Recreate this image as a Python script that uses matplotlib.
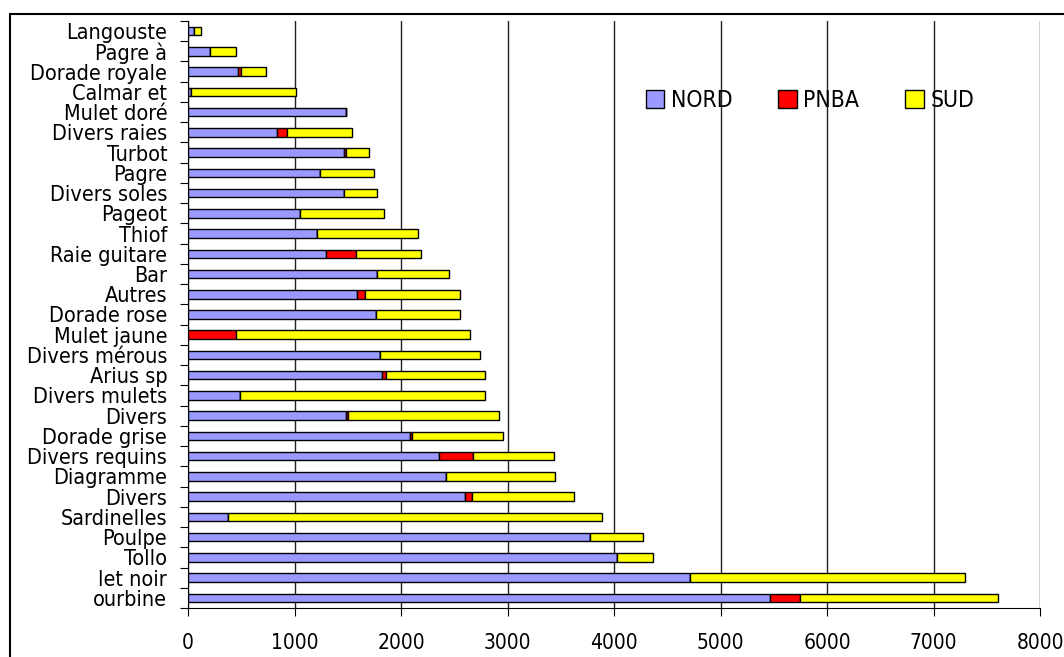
import matplotlib
matplotlib.use("Agg")
import matplotlib.pyplot as plt
import numpy as np
from matplotlib.patches import Rectangle

plt.rcParams["font.family"] = ["DejaVu Sans"]
plt.rcParams["font.stretch"] = "condensed"

# categories listed from bottom to top
species = [
    "ourbine", "let noir", "Tollo", "Poulpe", "Sardinelles", "Divers",
    "Diagramme", "Divers requins", "Dorade grise", "Divers", "Divers mulets",
    "Arius sp", "Divers mérous", "Mulet jaune", "Dorade rose", "Autres", "Bar",
    "Raie guitare", "Thiof", "Pageot", "Divers soles", "Pagre", "Turbot",
    "Divers raies", "Mulet doré", "Calmar et", "Dorade royale", "Pagre à",
    "Langouste",
]
nord = [5468, 4717, 4026, 3772, 375, 2601, 2420, 2360, 2085, 1480, 491,
        1825, 1800, 0, 1762, 1587, 1775, 1296, 1208, 1052, 1462, 1237, 1468,
        833, 1487, 25, 467, 207, 60]
pnba = [276, 0, 0, 0, 0, 69, 0, 314, 15, 20, 0,
        34, 0, 448, 0, 78, 0, 281, 0, 0, 0, 0, 15,
        94, 0, 0, 30, 0, 0]
sud = [1865, 2582, 344, 504, 3509, 951, 1029, 762, 862, 1424, 2301,
       933, 939, 2203, 789, 886, 679, 611, 955, 788, 313, 513, 217,
       610, 0, 985, 235, 241, 65]

series_names = ["NORD", "PNBA", "SUD"]
series_colors = ["#9999FF", "#FF0000", "#FFFF00"]

fig = plt.figure(figsize=(10.64, 6.57), dpi=100)
ax = fig.add_axes([188 / 1064, 1 - 608 / 657, (1040 - 188) / 1064, (608 - 21) / 657])

y = np.arange(len(species))
left = np.zeros(len(species))
for name, vals, col in zip(series_names, [nord, pnba, sud], series_colors):
    vals = np.array(vals, dtype=float)
    ax.barh(y, vals, left=left, height=0.42, color=col, edgecolor="black",
            linewidth=1, label=name, zorder=3)
    left += vals

ax.set_xlim(0, 8000)
ax.set_ylim(-0.5, len(species) - 0.5)
ax.set_xticks(np.arange(0, 8001, 1000))
ax.tick_params(axis="x", labelsize=15, length=6, direction="out", pad=12)

# category boundary ticks, labels at centres
ax.set_yticks(np.arange(len(species) + 1) - 0.5)
ax.set_yticklabels([])
ax.set_yticks(y, minor=True)
ax.set_yticklabels(species, minor=True, fontsize=15.5)
ax.tick_params(axis="y", which="major", length=6, direction="out")
ax.tick_params(axis="y", which="minor", length=0, pad=15)

ax.grid(axis="x", color="#222222", linewidth=1, zorder=0)
for s in ["top", "right"]:
    ax.spines[s].set_visible(False)

ax.legend(loc="center", bbox_to_anchor=(0.73, 0.865), ncol=3, frameon=False,
          fontsize=16.5, handlelength=0.8, handleheight=0.8, columnspacing=2.0,
          handletextpad=0.3)

# outer chart frame
fig.patches.append(Rectangle((10 / 1064, -0.05), 1.1, 1 - 14 / 657 + 0.05,
                             transform=fig.transFigure, fill=False,
                             edgecolor="black", linewidth=1.5))

fig.savefig("out.png", dpi=100)
